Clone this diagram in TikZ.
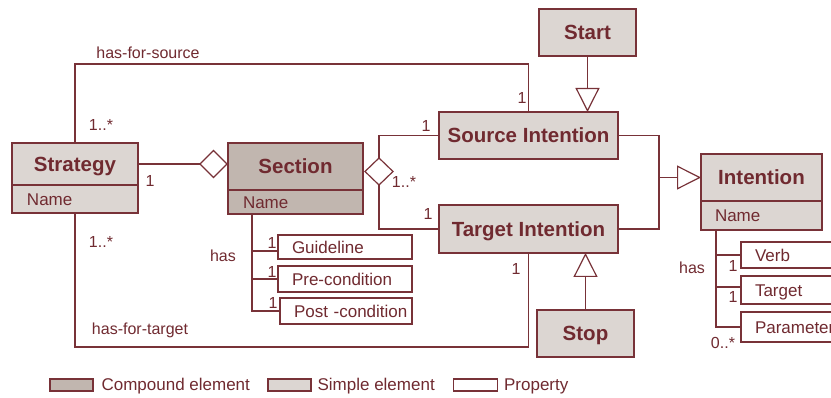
\documentclass[tikz,border=0pt]{standalone}
\usepackage{fontspec}
\setmainfont{Liberation Sans}
\usetikzlibrary{shapes.geometric,arrows.meta}
\definecolor{lc}{RGB}{120,50,56}
\definecolor{tc}{RGB}{112,42,48}
\definecolor{compf}{RGB}{193,182,175}
\definecolor{simpf}{RGB}{220,214,210}
\tikzset{
  base/.style={draw=lc, inner sep=0pt, outer sep=0pt, text=tc},
  titlebox/.style={base, text height=14.7pt, text depth=0pt, font=\fontsize{20.5}{24}\bfseries\selectfont},
  namebox/.style={base, align=left, text height=12.2pt, text depth=0pt, font=\fontsize{17}{20}\selectfont},
  propbox/.style={base, fill=white, align=left, inner xsep=14pt, text height=12.2pt, text depth=0pt, font=\fontsize{17}{20}\selectfont},
  agg/.style={base, shape=diamond, fill=white, minimum width=27pt, minimum height=27pt},
  lbl/.style={text=tc, inner sep=0pt, font=\fontsize{16}{19}\selectfont},
  legtext/.style={text=tc, inner sep=0pt, anchor=west, font=\fontsize{17}{20}\selectfont},
  gen/.style={-{Triangle[open,fill=white,length=24pt,width=24pt]}},
  conn/.style={draw=lc, line width=1.2pt}
}
\begin{document}
\begin{tikzpicture}[x=1pt,y=-1pt,line width=1.2pt]
\useasboundingbox (0,0) rectangle (831,398);

% main elements
\node[titlebox, fill=simpf, minimum width=126pt, minimum height=42pt] (strat) at (75,164) {Strategy};
\node[namebox, fill=simpf, text width=96pt, inner xsep=15pt, minimum height=28pt] (stratN) at (75,199) {Name};

\node[titlebox, fill=compf, minimum width=135pt, minimum height=47pt] (sec) at (295.5,166.5) {Section};
\node[namebox, fill=compf, text width=105pt, inner xsep=15pt, minimum height=24pt] (secN) at (295.5,202) {Name};

\node[titlebox, fill=simpf, minimum width=179pt, minimum height=47pt] (src) at (528.5,135.5) {Source Intention};
\node[titlebox, fill=simpf, minimum width=179pt, minimum height=48pt] (tgt) at (528.5,229) {Target Intention};

\node[titlebox, fill=simpf, minimum width=97pt, minimum height=47pt] (start) at (587.5,32.5) {Start};
\node[titlebox, fill=simpf, minimum width=97pt, minimum height=47pt] (stop) at (585.5,333.5) {Stop};

\node[titlebox, fill=simpf, minimum width=121pt, minimum height=47pt] (intn) at (761.5,177.5) {Intention};
\node[namebox, fill=simpf, text width=93pt, inner xsep=14pt, minimum height=29pt] (intnN) at (761.5,215.5) {Name};

% properties
\node[propbox, text width=106pt, minimum height=24pt] (guide) at (345,247) {Guideline};
\node[propbox, text width=106pt, minimum height=26pt] (pre) at (345,279) {Pre-condition};
\node[propbox, text width=104pt, minimum height=26pt] (post) at (346,311) {\mbox{Post -condition}};

\node[propbox, text width=91pt, minimum height=26pt] (verb) at (800.5,255) {Verb};
\node[propbox, text width=91pt, minimum height=28pt] (targ) at (800.5,290) {Target};
\node[propbox, text width=91pt, minimum height=30pt] (param) at (800.5,327) {\mbox{Parameter}};

% aggregation diamonds
\node[agg] (d1) at (213.5,164) {};
\node[agg, minimum width=28pt] (d2) at (379,171.5) {};

% bend coordinates
\coordinate (hs) at (75,64);
\coordinate (ht) at (75,347);
\coordinate (j) at (659,177.5);
\coordinate (sv) at (252,214);
\coordinate (gw) at (278,251);
\coordinate (iv) at (716,230);
\coordinate (tw) at (741,287);

% connectors
\draw[conn] (strat.north) -- (hs) -| (src.north);
\draw[conn] (stratN.south) -- (ht) -| (tgt.south);
\draw[conn] (strat.east) -- (d1.west);
\draw[conn] (d2.north) |- (src.west);
\draw[conn] (d2.south) |- (tgt.west);
\draw[conn, gen] (start.south) -- (start.south |- src.north);
\draw[conn, gen] (stop.north) -- (stop.north |- tgt.south);
\draw[conn] (src.east) -| (j) |- (tgt.east);
\draw[conn, gen] (j) -- (intn.west);
\draw[conn] (sv) |- (post.west);
\draw[conn] (sv |- gw) -- (gw);
\draw[conn] (sv |- pre.west) -- (pre.west);
\draw[conn] (iv) |- (param.west);
\draw[conn] (iv |- verb.west) -- (verb.west);
\draw[conn] (iv |- tw) -- (tw);

% labels
\node[lbl] (l1) at (148,53) {has-for-source};
\node[lbl] (l2) at (140,330) {has-for-target};
\node[lbl] (l3) at (101,125) {1..*};
\node[lbl] (l4) at (101,242) {1..*};
\node[lbl] (l5) at (150,181) {1};
\node[lbl] (l6) at (522,98) {1};
\node[lbl] (l7) at (426,126) {1};
\node[lbl] (l8) at (404,182) {1..*};
\node[lbl] (l9) at (428,214) {1};
\node[lbl] (l10) at (516,269) {1};
\node[lbl] (l11) at (223,256) {has};
\node[lbl] (l12) at (272,243) {1};
\node[lbl] (l13) at (272,272) {1};
\node[lbl] (l14) at (273,303) {1};
\node[lbl] (l15) at (692,268) {has};
\node[lbl] (l16) at (733,266) {1};
\node[lbl] (l17) at (733,297) {1};
\node[lbl] (l18) at (723,343) {0..*};

% legend
\node[base, fill=compf, minimum width=43pt, minimum height=12pt] (lg1) at (71.5,385) {};
\node[legtext] (lt1) at (101,386) {Compound element};
\node[base, fill=simpf, minimum width=43pt, minimum height=12pt] (lg2) at (289.5,385) {};
\node[legtext] (lt2) at (317,386) {Simple element};
\node[base, fill=white, minimum width=44pt, minimum height=12pt] (lg3) at (475.5,385) {};
\node[legtext] (lt3) at (503.5,386) {Property};
\end{tikzpicture}
\end{document}
